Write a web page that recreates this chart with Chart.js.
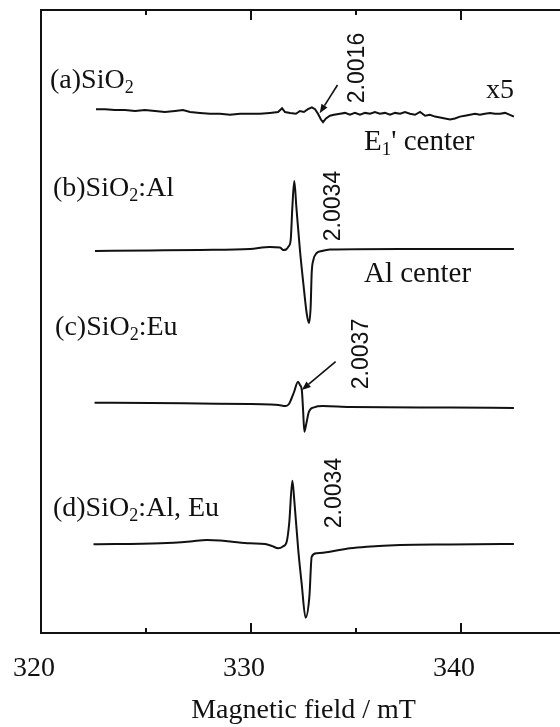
<!DOCTYPE html>
<html><head><meta charset="utf-8">
<script src="https://cdn.jsdelivr.net/npm/chart.js@4.4.1/dist/chart.umd.min.js"></script>
<style>
html,body{margin:0;padding:0;background:#fff;overflow:hidden}
#wrap{width:560px;height:727px;overflow:hidden;position:relative}
canvas{display:block}
</style></head>
<body><div id="wrap"><canvas id="c" width="580" height="727"></canvas></div>
<script>
// ---- data (magnetic field in mT, derivative EPR signal in arbitrary units) ----
const fieldA = [322.62,323.05,323.52,324.00,324.48,324.95,325.43,325.90,326.38,326.76,327.10,327.57,328.05,328.52,329.00,329.48,329.95,330.43,330.90,331.29,331.48,331.62,331.86,332.14,332.33,332.52,332.71,332.90,333.05,333.19,333.33,333.43,333.57,333.76,333.95,334.24,334.48,334.71,334.95,335.19,335.43,335.67,335.90,336.14,336.38,336.62,336.86,337.10,337.33,337.57,337.81,338.05,338.29,338.52,338.76,339.00,339.24,339.48,339.71,339.95,340.19,340.43,340.67,340.90,341.14,341.38,341.62,341.86,342.10,342.33,342.52];
const signalA = [3.8,3.8,2.9,2.9,2.0,2.9,2.0,1.0,2.0,2.9,1.0,0.1,-0.8,-0.8,-1.8,-0.8,-0.8,-0.8,0.1,1.0,4.7,1.0,0.1,-0.8,2.0,1.0,3.8,5.7,3.8,-0.8,-6.5,-9.2,-5.5,-2.7,-1.8,-0.8,0.1,-1.8,0.1,-1.8,0.1,-0.8,1.0,-0.8,0.1,-1.8,0.1,-0.8,1.0,-0.8,-1.8,1.0,-2.7,-1.8,-3.6,-4.6,-5.5,-6.5,-5.5,-3.6,-2.7,-1.8,-0.8,-1.8,-0.8,0.1,-0.8,-0.8,0.1,-1.8,-3.6];

const fieldB = [322.57,325.19,327.57,329.95,330.90,331.38,331.54,331.67,331.78,331.89,331.97,332.06,332.16,332.33,332.49,332.65,332.76,332.84,332.89,332.97,333.13,333.37,333.76,337.10,342.52];
const signalB = [-1,-0.5,0,1,3,2.5,0,0.5,3.3,10,43,69,43,0,-33,-63,-73,-57,-23,-10,-3,-1,0.5,1,1];

const fieldC = [322.55,325.19,327.57,329.95,330.90,331.31,331.65,331.81,331.90,332.05,332.24,332.33,332.42,332.48,332.54,332.62,332.76,333.00,333.43,334.71,339.48,342.52];
const signalC = [2.3,2,1.5,1,0.5,0,-1,1,5,13,23.3,20,15,-5,-26.7,-20,-6.7,-2.3,-1,-2,-2.5,-3];

const fieldD = [322.50,325.70,327.10,327.90,328.52,329.10,329.95,330.67,331.00,331.30,331.52,331.70,331.82,331.97,332.06,332.25,332.41,332.60,332.78,332.89,333.13,333.76,334.71,335.51,337.10,339.48,342.52];
const signalD = [-0.3,0.7,2.5,4,3.5,2.3,0.7,0,-2,-4.3,-2.5,2.3,21,63.3,44,-6,-39,-73.7,-52.7,-12.7,-9.3,-7.7,-4.3,-2.7,-1,-0.5,0];

// vertical stacking offsets of the four spectra (a)..(d)
const stackOffsets = [520, 383, 228, 89];
const majorTicks = [320, 330, 340];
const minorTicks = [325, 335];
const gFactors = ['2.0016', '2.0034', '2.0037', '2.0034'];

// ---- build datasets ----
const fields = [fieldA, fieldB, fieldC, fieldD];
const signals = [signalA, signalB, signalC, signalD];
const datasets = fields.map((f, i) => ({
  data: f.map((xv, k) => ({x: xv, y: stackOffsets[i] + signals[i][k]})),
  borderColor: '#111',
  borderWidth: 2,
  pointRadius: 0,
  fill: false,
  tension: i === 0 ? 0 : 0.35,
  cubicInterpolationMode: i === 0 ? 'default' : 'monotone'
}));

const SERIF = '"Liberation Serif", "Times New Roman", serif';
const SANS = '"Liberation Sans", Arial, sans-serif';

// annotation placement (data coordinates)
const texts = [
  {parts: [['(a)SiO'], ['2', 1]], x: 320.43, y: 545, size: 28},
  {parts: [['x5']], x: 342.52, y: 535, size: 28, align: 'right'},
  {parts: [['E'], ['1', 1], ["' center"]], x: 335.38, y: 483, size: 29},
  {parts: [['(b)SiO'], ['2', 1], [':Al']], x: 320.57, y: 437, size: 28},
  {parts: [['Al center']], x: 335.38, y: 351, size: 29},
  {parts: [['(c)SiO'], ['2', 1], [':Eu']], x: 320.67, y: 298, size: 28},
  {parts: [['(d)SiO'], ['2', 1], [':Al, Eu']], x: 320.57, y: 117, size: 28}
];
const gLabelPos = [[335.1, 565], [333.95, 427], [335.29, 279], [334.0, 140]];
const arrows = [[334.12, 548, 333.27, 519.7], [334.03, 271.3, 332.42, 243]];

const annot = {
  id: 'annot',
  afterDatasetsDraw(chart) {
    const {ctx, chartArea: ca} = chart;
    const x = chart.scales.x, y = chart.scales.y;
    ctx.save();
    ctx.strokeStyle = '#111';
    ctx.fillStyle = '#111';
    ctx.lineWidth = 2;
    const drawTick = (v, len) => {
      const px = Math.round(x.getPixelForValue(v));
      ctx.beginPath();
      ctx.moveTo(px, ca.bottom); ctx.lineTo(px, ca.bottom - len);
      ctx.moveTo(px, ca.top); ctx.lineTo(px, ca.top + len);
      ctx.stroke();
    };
    majorTicks.forEach(v => drawTick(v, 10));
    minorTicks.forEach(v => drawTick(v, 5));

    texts.forEach(t => {
      const base = `${t.size}px ${SERIF}`;
      const sub = `${Math.round(t.size * 0.65)}px ${SERIF}`;
      let total = 0;
      t.parts.forEach(p => { ctx.font = p[1] ? sub : base; total += ctx.measureText(p[0]).width; });
      let px = x.getPixelForValue(t.x);
      if (t.align === 'right') px -= total;
      const py = y.getPixelForValue(t.y);
      ctx.textBaseline = 'alphabetic';
      ctx.textAlign = 'left';
      t.parts.forEach(p => {
        ctx.font = p[1] ? sub : base;
        ctx.fillText(p[0], px, py + (p[1] ? 5 : 0));
        px += ctx.measureText(p[0]).width;
      });
    });

    gFactors.forEach((g, i) => {
      const px = x.getPixelForValue(gLabelPos[i][0]);
      const py = y.getPixelForValue(gLabelPos[i][1]);
      ctx.save();
      ctx.translate(px, py);
      ctx.rotate(-Math.PI / 2);
      ctx.font = `23px ${SANS}`;
      ctx.textAlign = 'center';
      ctx.textBaseline = 'middle';
      ctx.fillText(g, 0, 0);
      ctx.restore();
    });

    ctx.lineWidth = 1.6;
    arrows.forEach(a => {
      const x1 = x.getPixelForValue(a[0]), y1 = y.getPixelForValue(a[1]);
      const x2 = x.getPixelForValue(a[2]), y2 = y.getPixelForValue(a[3]);
      const ang = Math.atan2(y2 - y1, x2 - x1);
      const hl = 9, hw = 3.5;
      const bx = x2 - hl * Math.cos(ang), by = y2 - hl * Math.sin(ang);
      ctx.beginPath(); ctx.moveTo(x1, y1); ctx.lineTo(bx, by); ctx.stroke();
      ctx.beginPath();
      ctx.moveTo(x2, y2);
      ctx.lineTo(bx + hw * Math.sin(ang), by - hw * Math.cos(ang));
      ctx.lineTo(bx - hw * Math.sin(ang), by + hw * Math.cos(ang));
      ctx.closePath(); ctx.fill();
    });
    ctx.restore();
  }
};

new Chart(document.getElementById('c'), {
  type: 'line',
  data: {datasets},
  options: {
    responsive: false,
    animation: false,
    events: [],
    layout: {padding: {left: 41, top: 10, right: 14, bottom: 0}},
    plugins: {legend: {display: false}, tooltip: {enabled: false}},
    scales: {
      x: {
        type: 'linear', position: 'bottom', min: 320, max: 345,
        grid: {display: false, drawTicks: false},
        border: {display: true, color: '#111', width: 2},
        afterFit: s => { s.height = 94; },
        ticks: {
          stepSize: 10, includeBounds: false, padding: 19, labelOffset: -7,
          color: '#111', font: {family: SERIF, size: 28},
          maxRotation: 0, autoSkip: false,
          callback: v => majorTicks.includes(v) ? String(v) : ''
        },
        title: {display: true, text: 'Magnetic field / mT', color: '#111',
                font: {family: SERIF, size: 28}, padding: {top: 0, bottom: 0}}
      },
      x2: {
        type: 'linear', position: 'top', min: 320, max: 345,
        grid: {display: false, drawTicks: false},
        border: {display: true, color: '#111', width: 2},
        ticks: {display: false},
        afterFit: s => { s.height = 0; }
      },
      y: {
        type: 'linear', min: 0, max: 623,
        grid: {display: false, drawTicks: false},
        border: {display: true, color: '#111', width: 2},
        ticks: {display: false},
        afterFit: s => { s.width = 0; }
      }
    }
  },
  plugins: [annot]
});
</script>
</body></html>
